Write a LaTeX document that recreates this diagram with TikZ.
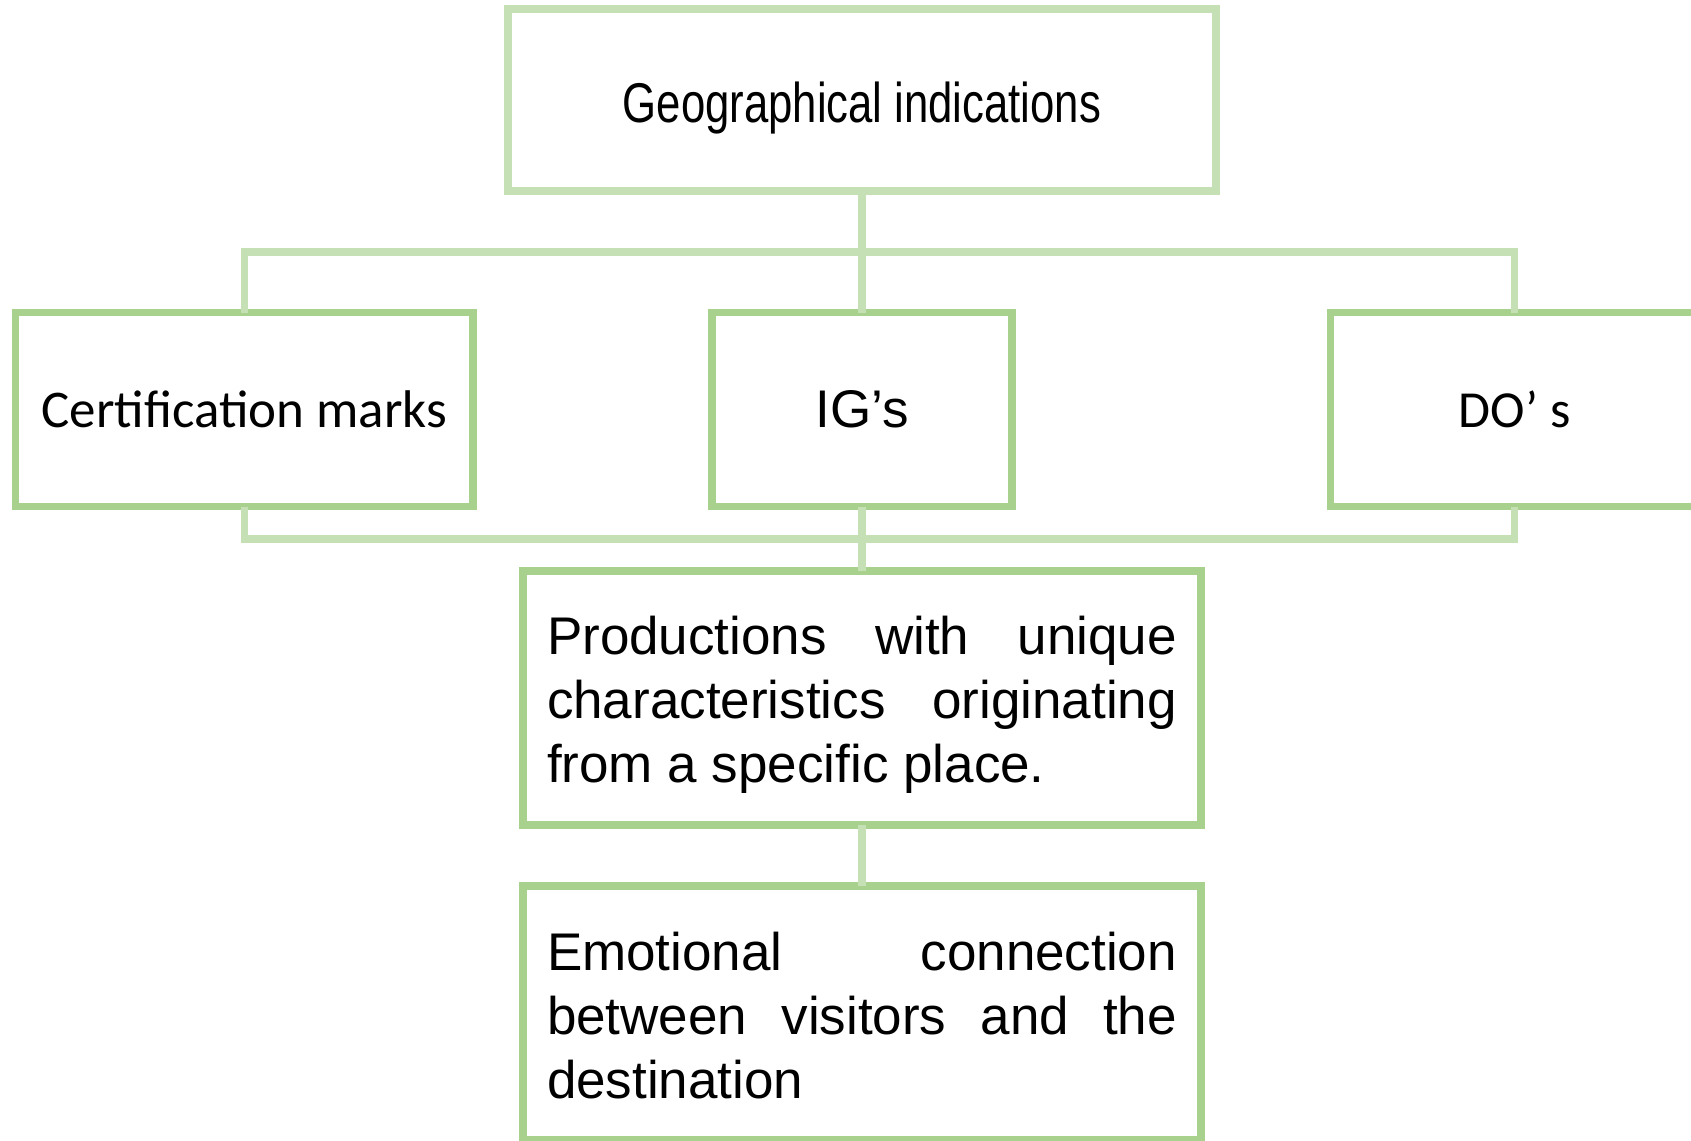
\documentclass[tikz,border=0pt]{standalone}
\usepackage{fontspec}
\setmainfont{Liberation Sans}
\newfontfamily\narrowfont[FakeStretch=0.78]{Liberation Sans}
\newfontfamily\calibrifont{Carlito}
\definecolor{lightgreen}{HTML}{C5E0B4}
\definecolor{midgreen}{HTML}{A9D18E}
\hyphenpenalty=10000
\tolerance=10000

\tikzstyle{box} = [rectangle, draw=midgreen, line width=3.75pt, outer sep=0pt, inner sep=0pt]
\tikzstyle{topbox} = [box, draw=lightgreen, minimum width=354pt, minimum height=91pt]
\tikzstyle{midbox} = [box, minimum height=97pt]
\tikzstyle{textbox} = [box, text width=315pt, inner xsep=12pt, minimum height=127pt, align=justify,
  font=\fontsize{26.5pt}{32pt}\selectfont]
\tikzstyle{link} = [draw=lightgreen, line width=3.75pt]

\begin{document}
\begin{tikzpicture}[x=0.5pt, y=-0.5pt]
      \fill[white] (0,0) rectangle (1691,1140);
      \useasboundingbox (0,0) rectangle (1691,1140);
      \node[topbox, text height=28pt, text depth=6pt, font=\narrowfont\fontsize{28pt}{34pt}\selectfont] (geo) at (862,100) {Geographical indications};
      \node[midbox, minimum width=228.75pt, font=\calibrifont\fontsize{26.5pt}{32pt}\selectfont] (cert) at (244.3,409.7) {Certification marks};
      \node[midbox, minimum width=150pt, font=\fontsize{26.5pt}{32pt}\selectfont] (ig) at (862,409.7) {IG’s};
      \node[midbox, minimum width=184pt, font=\calibrifont\fontsize{26pt}{32pt}\selectfont] (do) at (1514.5,409.7) {DO’ s};
      \node[textbox] (prod) at (862,698) {\vrule width 0pt height 26pt Productions with unique characteristics originating from a specific place.};
      \node[textbox] (emo) at (862,1012.75) {\vrule width 0pt height 22pt Emotional connection between visitors and the destination};
      \coordinate (upbus) at (862,252);
      \coordinate (lowbus) at (862,539);
      \draw[link] (cert.north) |- (upbus) -| (do.north);
      \draw[link] (geo.south) -- (ig.north);
      \draw[link] (cert.south) |- (lowbus) -| (do.south);
      \draw[link] (ig.south) -- (prod.north);
      \draw[link] (prod.south) -- (emo.north);
    \end{tikzpicture}
\end{document}
